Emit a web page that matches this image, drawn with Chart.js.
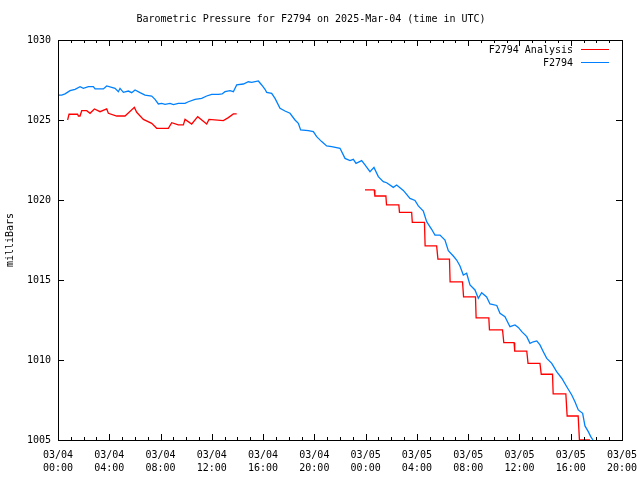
<!DOCTYPE html>
<html>
<head>
<meta charset="utf-8">
<script src="https://cdn.jsdelivr.net/npm/chart.js@4"></script>
<style>
    html, body { margin: 0; padding: 0; background: #fff; }
    #wrap { width: 640px; height: 480px; }
</style>
</head>
<body>
<div id="wrap"><canvas id="chart" width="640" height="480"></canvas></div>
<script>
// Time is in hours since 03/04 00:00 UTC
const blueHours = [0, 0.29, 0.55, 0.94, 1.33, 1.72, 1.98, 2.37, 2.76, 2.89, 3.54, 3.80, 4.19, 4.45, 4.71, 4.84, 5.10, 5.49, 5.75, 6.01,
    6.40, 6.79, 7.31, 7.57, 7.83, 8.09, 8.35, 8.74, 9.00, 9.39, 9.91, 10.17, 10.69, 11.21, 11.60, 11.99, 12.51, 12.80, 13.03, 13.42,
    13.68, 13.94, 14.46, 14.85, 15.11, 15.63, 15.89, 16.15, 16.28, 16.67, 16.93, 17.32, 17.71, 18.10, 18.49, 18.75, 18.93, 19.53, 19.92, 20.18,
    20.57, 20.96, 21.35, 22.00, 22.39, 22.78, 23.04, 23.25, 23.69, 23.95, 24.34, 24.65, 24.99, 25.38, 25.64, 26.16, 26.42, 26.94, 27.46, 27.85,
    28.11, 28.50, 28.76, 29.15, 29.41, 29.80, 30.19, 30.45, 30.84, 31.10, 31.36, 31.62, 31.88, 32.14, 32.53, 32.79, 33.05, 33.44, 33.70, 34.23,
    34.48, 34.87, 35.26, 35.65, 35.91, 36.18, 36.57, 36.82, 37.08, 37.35, 37.60, 37.86, 38.13, 38.52, 38.90, 39.30, 39.69, 40.08, 40.33, 40.59,
    40.93, 41.11, 41.37, 41.56, 41.74];
const bluePressure = [1026.56, 1026.56, 1026.63, 1026.83, 1026.92, 1027.08, 1026.98, 1027.08, 1027.08, 1026.94, 1026.94, 1027.13, 1027.04, 1026.98, 1026.77, 1026.98, 1026.73, 1026.81, 1026.71, 1026.88,
    1026.71, 1026.56, 1026.50, 1026.29, 1026.00, 1026.04, 1025.98, 1026.04, 1025.96, 1026.04, 1026.04, 1026.14, 1026.29, 1026.35, 1026.50, 1026.60, 1026.60, 1026.63, 1026.77, 1026.83,
    1026.77, 1027.19, 1027.25, 1027.39, 1027.35, 1027.44, 1027.19, 1026.92, 1026.73, 1026.67, 1026.35, 1025.73, 1025.56, 1025.42, 1025.00, 1024.79, 1024.38, 1024.33, 1024.27, 1023.96,
    1023.65, 1023.38, 1023.33, 1023.23, 1022.60, 1022.46, 1022.54, 1022.29, 1022.46, 1022.19, 1021.77, 1022.04, 1021.46, 1021.15, 1021.08, 1020.79, 1020.94, 1020.60, 1020.10, 1019.97,
    1019.63, 1019.31, 1018.65, 1018.17, 1017.81, 1017.81, 1017.50, 1016.83, 1016.50, 1016.25, 1015.88, 1015.31, 1015.42, 1014.69, 1014.38, 1013.86, 1014.21, 1013.94, 1013.50, 1013.41,
    1012.92, 1012.71, 1012.08, 1012.19, 1012.04, 1011.77, 1011.46, 1011.04, 1011.14, 1011.19, 1010.94, 1010.52, 1010.10, 1009.79, 1009.27, 1008.86, 1008.33, 1007.81, 1007.39, 1006.88,
    1006.67, 1005.88, 1005.52, 1005.21, 1005.00];

// Analysis values (null = no data between the two runs)
const redHours = [0.75, 0.86, 1.53, 1.59, 1.72, 1.85, 2.24, 2.50, 2.84, 3.28, 3.80, 3.93, 4.58, 5.23, 5.96, 6.14, 6.66, 7.31, 7.70, 8.61,
    8.87, 9.39, 9.78, 9.91, 10.43, 10.90, 11.60, 11.78, 12.90, 13.29, 13.68, 13.94,
    18.00,
    23.95, 24.67, 24.72, 25.58, 25.63, 26.59, 26.64, 27.59, 27.64, 28.59, 28.64, 29.54, 29.64, 30.54, 30.59, 31.56, 31.64, 32.57,
    32.62, 33.61, 33.66, 34.68, 34.78, 35.58, 35.63, 36.57, 36.67, 37.60, 37.70, 38.58, 38.63, 39.62, 39.72, 40.58, 40.68, 41.50];
const redPressure = [1025.00, 1025.36, 1025.36, 1025.25, 1025.25, 1025.58, 1025.58, 1025.42, 1025.69, 1025.52, 1025.69, 1025.42, 1025.25, 1025.25, 1025.79, 1025.48, 1025.04, 1024.79, 1024.48, 1024.48,
    1024.83, 1024.69, 1024.69, 1025.04, 1024.75, 1025.21, 1024.75, 1025.04, 1024.96, 1025.15, 1025.38, 1025.38,
    null,
    1020.63, 1020.63, 1020.25, 1020.25, 1019.69, 1019.69, 1019.23, 1019.23, 1018.60, 1018.60, 1017.13, 1017.13, 1016.31, 1016.31, 1014.88, 1014.88, 1013.94, 1013.94,
    1012.63, 1012.63, 1011.88, 1011.88, 1011.08, 1011.08, 1010.56, 1010.56, 1009.79, 1009.79, 1009.11, 1009.11, 1007.88, 1007.88, 1006.50, 1006.50, 1005.00, 1005.00];

const xTickDates = ["03/04", "03/04", "03/04", "03/04", "03/04", "03/04", "03/05", "03/05", "03/05", "03/05", "03/05", "03/05"];
const xTickTimes = ["00:00", "04:00", "08:00", "12:00", "16:00", "20:00", "00:00", "04:00", "08:00", "12:00", "16:00", "20:00"];
const yTicks = [1005, 1010, 1015, 1020, 1025, 1030];

const MONO = "'DejaVu Sans Mono', 'Liberation Mono', monospace";
const font10 = { family: MONO, size: 10, weight: 'normal' };

function toPoints(xs, ys) {
    return xs.map((x, i) => ({ x: x, y: ys[i] }));
}

// Border box with inward tick marks, gnuplot style
const framePlugin = {
    id: 'frame',
    afterDatasetsDraw(chart) {
        const { ctx, chartArea: a, scales } = chart;
        ctx.save();
        ctx.strokeStyle = '#000';
        ctx.lineWidth = 1;
        ctx.beginPath();
        scales.x.ticks.forEach(t => {
            const px = Math.round(scales.x.getPixelForValue(t.value)) + 0.5;
            const len = (t.value % 4 === 0) ? 6 : 3;
            ctx.moveTo(px, a.bottom); ctx.lineTo(px, a.bottom - len);
            ctx.moveTo(px, a.top); ctx.lineTo(px, a.top + len);
        });
        yTicks.forEach(v => {
            const py = Math.round(scales.y.getPixelForValue(v)) + 0.5;
            ctx.moveTo(a.left, py); ctx.lineTo(a.left + 6, py);
            ctx.moveTo(a.right, py); ctx.lineTo(a.right - 6, py);
        });
        ctx.stroke();
        ctx.strokeRect(a.left + 0.5, a.top + 0.5, a.right - a.left, a.bottom - a.top);
        ctx.restore();
    }
};

// Legend in the top right corner: label, then a line sample
const legendPlugin = {
    id: 'cornerLegend',
    afterDraw(chart) {
        const { ctx, chartArea: a } = chart;
        ctx.save();
        ctx.font = "10px " + MONO;
        ctx.textAlign = 'right';
        ctx.textBaseline = 'middle';
        chart.data.datasets.forEach((ds, i) => {
            const y = a.top + 9 + i * 13;
            ctx.fillStyle = '#000';
            ctx.fillText(ds.label, a.right - 49, y + 1);
            ctx.strokeStyle = ds.borderColor;
            ctx.lineWidth = 1;
            ctx.beginPath();
            ctx.moveTo(a.right - 41, y + 0.5);
            ctx.lineTo(a.right - 13, y + 0.5);
            ctx.stroke();
        });
        ctx.restore();
    }
};

new Chart(document.getElementById('chart'), {
    type: 'line',
    data: {
        datasets: [{
            label: 'F2794 Analysis',
            data: toPoints(redHours, redPressure),
            borderColor: '#ff0000',
            borderWidth: 1.3,
            pointRadius: 0,
            tension: 0,
            spanGaps: false,
            order: 1
        }, {
            label: 'F2794',
            data: toPoints(blueHours, bluePressure),
            borderColor: '#0080ff',
            borderWidth: 1.3,
            pointRadius: 0,
            tension: 0,
            order: 0
        }]
    },
    options: {
        responsive: false,
        animation: false,
        events: [],
        layout: { padding: { left: 0, right: 18, top: 0, bottom: 0 } },
        plugins: {
            legend: { display: false },
            tooltip: { enabled: false },
            title: {
                display: true,
                text: 'Barometric Pressure for F2794 on 2025-Mar-04 (time in UTC)',
                color: '#000',
                font: font10,
                padding: { top: 13, bottom: 15 }
            }
        },
        scales: {
            x: {
                type: 'linear',
                min: 0,
                max: 44,
                grid: { display: false, drawTicks: false },
                border: { display: false },
                afterFit: s => { s.height = 40; s.paddingLeft = 0; s.paddingRight = 0; },
                ticks: {
                    stepSize: 1,
                    autoSkip: false,
                    maxRotation: 0,
                    padding: 9,
                    color: '#000',
                    font: { family: MONO, size: 10, weight: 'normal', lineHeight: 1.3 },
                    callback: v => (v % 4 === 0) ? [xTickDates[v / 4], xTickTimes[v / 4]] : ''
                }
            },
            y: {
                min: 1005,
                max: 1030,
                grid: { display: false, drawTicks: false },
                border: { display: false },
                afterFit: s => { s.width = 58; s.paddingTop = 0; s.paddingBottom = 0; },
                afterBuildTicks: s => { s.ticks = yTicks.map(v => ({ value: v })); },
                ticks: { padding: 7, color: '#000', font: font10, callback: v => String(v) },
                title: {
                    display: true,
                    text: 'milliBars',
                    color: '#000',
                    font: font10,
                    padding: { top: 4, bottom: 0 }
                }
            }
        }
    },
    plugins: [framePlugin, legendPlugin]
});
</script>
</body>
</html>
